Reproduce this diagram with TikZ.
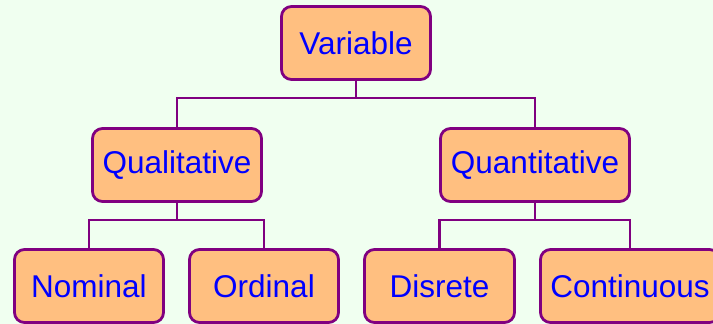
\documentclass[tikz,border=0pt]{standalone}
\usepackage{fontspec}
\setmainfont{Liberation Sans}
\definecolor{bgc}{HTML}{F0FFF0}
\definecolor{boxfill}{HTML}{FFBF80}
\definecolor{boxline}{HTML}{800080}
\definecolor{txt}{HTML}{0000FF}
\begin{document}
\begin{tikzpicture}[x=1pt,y=-1pt,
  box/.style={draw=boxline, fill=boxfill, line width=2.8pt, rounded corners=10pt,
    minimum height=73pt, text=txt, font=\fontsize{31.5}{36}\selectfont, inner sep=0pt},
  conn/.style={draw=boxline, line width=2.8pt}]
\fill[bgc] (0,0) rectangle (713,324);
\useasboundingbox (0,0) rectangle (713,324);
\node[box, minimum width=149pt] (var) at (356,43) {Variable};
\node[box, minimum width=169pt] (qual) at (177,165) {Qualitative};
\node[box, minimum width=189pt] (quant) at (535,165) {Quantitative};
\node[box, minimum width=149pt] (nom) at (89,286) {Nominal};
\node[box, minimum width=149pt] (ord) at (264,286) {Ordinal};
\node[box, minimum width=150pt] (dis) at (439.5,286) {Disrete};
\node[box, minimum width=179pt] (cont) at (630,286) {Continuous};
\draw[conn] (var.south) -- ++(0,17) coordinate (b1) -| (qual.north);
\draw[conn] (b1) -| (quant.north);
\draw[conn] (qual.south) -- ++(0,17) coordinate (b2) -| (nom.north);
\draw[conn] (b2) -| (ord.north);
\draw[conn] (quant.south) -- ++(0,17) coordinate (b3) -| (dis.north);
\draw[conn] (b3) -| (cont.north);
\end{tikzpicture}
\end{document}
